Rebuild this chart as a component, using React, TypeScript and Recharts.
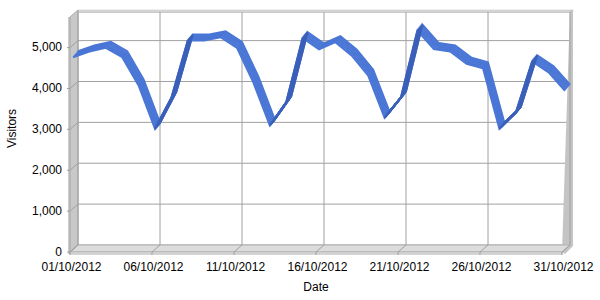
import React from "react";
import {
  LineChart,
  Line,
  XAxis,
  YAxis,
  CartesianGrid,
  ReferenceArea,
  ReferenceLine,
} from "recharts";

const dates = [
  "01/10/2012", "02/10/2012", "03/10/2012", "04/10/2012", "05/10/2012",
  "06/10/2012", "07/10/2012", "08/10/2012", "09/10/2012", "10/10/2012",
  "11/10/2012", "12/10/2012", "13/10/2012", "14/10/2012", "15/10/2012",
  "16/10/2012", "17/10/2012", "18/10/2012", "19/10/2012", "20/10/2012",
  "21/10/2012", "22/10/2012", "23/10/2012", "24/10/2012", "25/10/2012",
  "26/10/2012", "27/10/2012", "28/10/2012", "29/10/2012", "30/10/2012",
  "31/10/2012",
];

const visitors = [
  4740, 4880, 4970, 4740, 4050, 2990, 3750, 5150, 5150, 5230,
  4970, 4120, 3070, 3640, 5210, 4930, 5110, 4780, 4290, 3260,
  3760, 5390, 4940, 4880, 4580, 4470, 2990, 3380, 4640, 4370,
  3920,
];

// days where the ribbon shows its darker side (steep climbs)
const steepRiseDays = [6, 7, 8, 13, 14, 15, 20, 21, 22, 27, 28, 29];

const xTicks = [
  "01/10/2012", "06/10/2012", "11/10/2012", "16/10/2012",
  "21/10/2012", "26/10/2012", "31/10/2012",
];
const yTicks = [0, 1000, 2000, 3000, 4000, 5000];
const yMax = 5700;

const data = dates.map((date, i) => ({
  date,
  visitors: visitors[i],
  rising: steepRiseDays.includes(i + 1) ? visitors[i] : null,
}));

const DEPTH = { x: -8, y: 7 }; // depth of the 3D frame
const RIBBON = [0, 1, 2, 3, 4, 5]; // copies that build the ribbon
const STEP = { x: -1, y: 1.2 };

const LIGHT = "#4a76d6";
const DARK = "#3b60b9";
const GRID = "#a0a0a0";
const FONT = "'Liberation Sans', Arial, sans-serif";

const Frame = ({ x, y, width, height }: any) => {
  const x0 = x;
  const y0 = y;
  const x1 = x + width;
  const y1 = y + height;
  const dx = DEPTH.x;
  const dy = DEPTH.y;
  return (
    <g>
      {/* top rim */}
      <polygon
        points={`${x0},${y0 - 2} ${x1 + 3},${y0 - 2} ${x1 + 3},${y0} ${x0},${y0}`}
        fill="#d8d8d8"
        stroke="#c0c0c0"
        strokeWidth={0.5}
      />
      {/* right rim */}
      <polygon
        points={`${x1},${y0 - 2} ${x1 + 3},${y0 - 2} ${x1 + 3},${y1 + 1} ${x1 + dx + 3},${y1 + dy + 2} ${x1 + dx},${y1 + dy}`}
        fill="#c4c4c4"
      />
      {/* left wall */}
      <polygon
        points={`${x0},${y0 - 2} ${x0},${y1} ${x0 + dx},${y1 + dy} ${x0 + dx},${y0 - 2 + dy}`}
        fill="#c8c8c8"
        stroke="#a8a8a8"
        strokeWidth={1}
      />
      {/* floor */}
      <polygon
        points={`${x0},${y1} ${x1},${y1} ${x1 + dx},${y1 + dy} ${x0 + dx},${y1 + dy}`}
        fill="#dcdcdc"
        stroke="#b0b0b0"
        strokeWidth={1}
      />
      <rect
        x={x0 + dx}
        y={y1 + dy}
        width={width}
        height={2}
        fill="#f0f0f0"
        stroke="#b0b0b0"
        strokeWidth={1}
      />
      <line
        x1={x0 + dx - 1}
        y1={y0 - 2 + dy}
        x2={x0 + dx - 1}
        y2={y1 + dy + 2}
        stroke="#9a9a9a"
      />
    </g>
  );
};

const YTick = ({ x, y, payload }: any) => (
  <g>
    <line x1={x} y1={y} x2={x + DEPTH.x} y2={y + DEPTH.y} stroke={GRID} />
    <line
      x1={x + DEPTH.x}
      y1={y + DEPTH.y}
      x2={x + DEPTH.x - 3}
      y2={y + DEPTH.y}
      stroke={GRID}
    />
    <text
      x={x - 16}
      y={y + 10.5}
      textAnchor="end"
      fontSize={12}
      fontFamily={FONT}
      fill="#000"
    >
      {Number(payload.value).toLocaleString("en-US")}
    </text>
  </g>
);

const XTick = ({ x, y, payload }: any) => (
  <g>
    <line x1={x} y1={y} x2={x + DEPTH.x} y2={y + DEPTH.y} stroke={GRID} />
    <line
      x1={x + DEPTH.x}
      y1={y + DEPTH.y}
      x2={x + DEPTH.x}
      y2={y + DEPTH.y + 3}
      stroke={GRID}
    />
    <text
      x={x - 6.5}
      y={y + 25.5}
      textAnchor="middle"
      fontSize={12}
      fontFamily={FONT}
      fill="#000"
    >
      {payload.value}
    </text>
  </g>
);

const YTitle = ({ viewBox }: any) => {
  const cx = viewBox.x + 12;
  const cy = viewBox.y + viewBox.height / 2;
  return (
    <text
      x={cx}
      y={cy}
      transform={`rotate(-90 ${cx} ${cy})`}
      textAnchor="middle"
      dominantBaseline="central"
      fontSize={12}
      fontFamily={FONT}
      fill="#000"
    >
      Visitors
    </text>
  );
};

const XTitle = ({ viewBox }: any) => (
  <text
    x={viewBox.x + viewBox.width / 2 + DEPTH.x}
    y={viewBox.y + 46}
    textAnchor="middle"
    fontSize={12}
    fontFamily={FONT}
    fill="#000"
  >
    Date
  </text>
);

export default function App() {
  return (
    <div style={{ position: "absolute", left: 0, top: 0 }}>
      <LineChart
        width={600}
        height={300}
        data={data}
        margin={{ top: 12, right: 30, left: 0, bottom: 0 }}
        style={{ fontFamily: FONT }}
      >
        <ReferenceArea
          x1={dates[0]}
          x2={dates[dates.length - 1]}
          y1={0}
          y2={yMax}
          ifOverflow="visible"
          shape={<Frame />}
        />
        <CartesianGrid stroke={GRID} vertical={false} />
        {xTicks.map((t) => (
          <ReferenceLine key={t} x={t} stroke={GRID} />
        ))}
        <XAxis
          dataKey="date"
          interval={4}
          height={55}
          tickSize={0}
          tickMargin={0}
          axisLine={false}
          tickLine={false}
          padding={{ left: 0, right: 0 }}
          tick={<XTick />}
          label={<XTitle />}
        />
        <YAxis
          domain={[0, yMax]}
          ticks={yTicks}
          width={78}
          tickSize={0}
          tickMargin={0}
          axisLine={false}
          tickLine={false}
          tick={<YTick />}
          label={<YTitle />}
        />
        {RIBBON.slice(1).map((k) => (
          <XAxis
            key={`xa${k}`}
            xAxisId={`x${k}`}
            dataKey="date"
            hide
            padding={{ left: k * STEP.x, right: -k * STEP.x }}
          />
        ))}
        {RIBBON.slice(1).map((k) => (
          <YAxis
            key={`ya${k}`}
            yAxisId={`y${k}`}
            domain={[0, yMax]}
            hide
            padding={{ top: k * STEP.y, bottom: -k * STEP.y }}
          />
        ))}
        {RIBBON.map((k) => (
          <Line
            key={`l${k}`}
            xAxisId={k === 0 ? 0 : `x${k}`}
            yAxisId={k === 0 ? 0 : `y${k}`}
            dataKey="visitors"
            stroke={LIGHT}
            strokeWidth={2}
            dot={false}
            activeDot={false}
            isAnimationActive={false}
          />
        ))}
        {RIBBON.map((k) => (
          <Line
            key={`d${k}`}
            xAxisId={k === 0 ? 0 : `x${k}`}
            yAxisId={k === 0 ? 0 : `y${k}`}
            dataKey="rising"
            stroke={DARK}
            strokeWidth={2}
            connectNulls={false}
            dot={false}
            activeDot={false}
            isAnimationActive={false}
          />
        ))}
      </LineChart>
    </div>
  );
}
